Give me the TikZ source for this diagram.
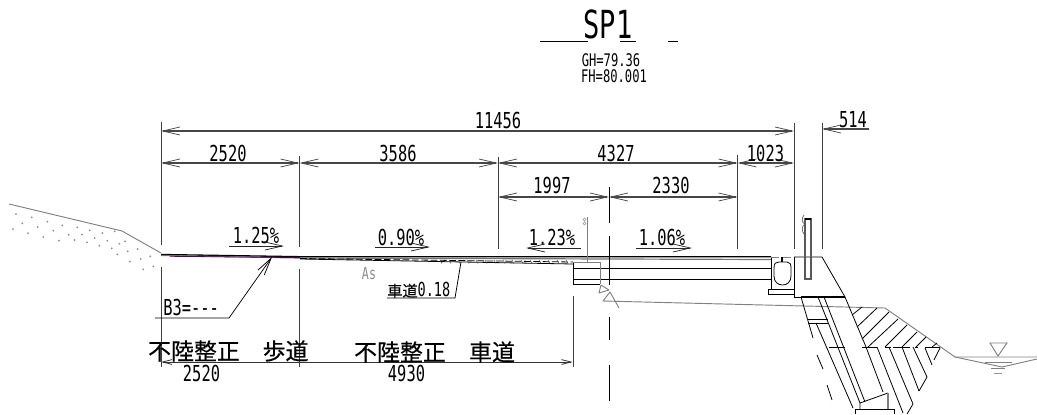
\documentclass[tikz,border=0pt]{standalone}
\usepackage{fontspec}
\usetikzlibrary{arrows.meta}
\newfontfamily\cad[FakeStretch=0.7]{DejaVu Sans Mono}
\newfontfamily\cjk[FakeBold=0.4]{Noto Sans CJK JP}
\newcommand{\fsz}[1]{\fontsize{#1}{#1}\selectfont}
\tikzset{
 longtip/.tip={Straight Barb[length=13pt,width=6pt,line width=.55pt]},
 shorttip/.tip={Straight Barb[length=7pt,width=3.6pt,line width=.6pt]},
 dim/.style={draw=black!72,line width=.8pt,longtip-longtip},
 slope/.style={draw=black!85,line width=.7pt,-longtip},
 ext/.style={draw=black!75,line width=.75pt},
 wall/.style={draw=black,line width=.6pt},
 soft/.style={draw=black!50,line width=.7pt},
 lab/.style={inner sep=0,text=black,font=\cad\fsz{16.5}},
 small/.style={inner sep=0,text=black,font=\cad\fsz{13}},
 big/.style={inner sep=0,text=black,font=\cad\fsz{29}},
 kanji/.style={inner sep=0,text=black,font=\cjk\fsz{17.2}}
}
\begin{document}
\begin{tikzpicture}[x=0.75pt,y=-0.75pt]
\useasboundingbox (0,0) rectangle (1037,414);
% title
\node[big] (title) at (608,24) {SP1};
\node[small] (gh) at (611,60) {GH=79.36};
\node[small] (fh) at (614,76) {FH=80.001};
\draw[wall] (540,41) -- (588,41) (620,41) -- (636,41) (668,41) -- (678,41);
% extension lines
\draw[ext] (161,122) -- (161,245) (161,267) -- (161,367);
\draw[ext] (299.5,156) -- (299.5,247) (299.5,269) -- (299.5,367);
\draw[ext] (498,157) -- (498,249);
\draw[ext] (737.5,155) -- (737.5,249);
\draw[ext] (794,123) -- (794,249);
\draw[ext] (822,123) -- (822,249);
% dimension lines
\draw[dim] (161,131) -- (794,131);
\draw[dim] (161,163) -- (299.5,163);
\draw[dim] (299.5,163) -- (498,163);
\draw[dim] (498,163) -- (737.5,163);
\draw[dim] (737.5,163) -- (794,163);
\draw[dim] (498,197) -- (609,197);
\draw[dim] (609,197) -- (737.5,197);
\draw[draw=black!72,line width=.8pt,longtip-] (822,129) -- (869,129);
% dimension texts
\node[lab] (t11456) at (498,120) {11456};
\node[lab] (t514) at (853,120) {514};
\node[lab] (t2520a) at (228,153) {2520};
\node[lab] (t3586) at (398,153) {3586};
\node[lab] (t4327) at (616,153) {4327};
\node[lab] (t1023) at (765.5,153) {1023};
\node[lab] (t1997) at (552,185) {1997};
\node[lab] (t2330) at (671,185) {2330};
% slopes
\node[lab] (s1) at (256,235) {1.25\%};
\node[lab] (s2) at (401,237) {0.90\%};
\node[lab] (s3) at (552,237) {1.23\%};
\node[lab] (s4) at (662,237) {1.06\%};
\draw[slope] (229,246) -- (284,246);
\draw[slope] (375,247) -- (430,247);
\draw[slope] (581,248) -- (526,248);
\draw[slope] (636,248) -- (692,248);
% ground left
\draw[soft] (9,204) -- (122,231) -- (161,253);
\foreach \x/\y in {48/72,95/82,67/100,142/95,187/106,113/111,39/117,160/122,232/112,269/121,84/129,130/141,206/134,246/134,307/129,344/124,177/152,224/150,284/144,322/152,375/154,358/161,261/157,298/167,335/175,413/177,383/184,352/193,451/199,422/207,390/215,460/229,430/238}
  \fill[black!45] (\x/3,190+\y/3) circle[radius=1];
% road surface
\draw[draw=black,line width=1pt] (161,254.5) -- (300,256.7) -- (771,256.7);
\draw[draw=black!55,line width=.9pt] (161,255.5) -- (300,258) -- (771,259.5);
\draw[draw=violet!70!black,line width=.6pt] (170,256.3) -- (300,257.6);
\draw[draw=black,line width=.6pt] (300,259) -- (573,264);
\draw[draw=black,line width=.6pt,dash pattern=on 5pt off 2pt] (300,258.5) -- (573,262);
\foreach \x in {440,449,...,570} \draw[draw=black!70,line width=.4pt] (\x,260) -- (\x+2,263.6);
% road structure
\draw[wall,line width=.75pt] (573,268) -- (771,268) (573,279) -- (771,279);
\draw[wall] (573,262) -- (573,284) -- (600,284);
\draw[soft] (573,262) -- (600,262) -- (600,284);
\draw[soft] (587,217) -- (587,262);
\draw[draw=black!40,line width=.4pt] (584.5,219.5) circle[radius=1.4] (584.5,223.5) circle[radius=1.4];
% centre line
\draw[wall,line width=.75pt] (609,187) -- (609,223) (609,236) -- (609,285) (609,317) -- (609,340) (609,365) -- (609,401);
% bearing marks
\draw[soft,line join=bevel] (599,293) -- (601,285) -- (609,290) -- cycle;
\draw[soft,line join=bevel] (619,308) -- (610,292) -- (603,301) -- (885,308);
% lower dimension
\draw[ext] (573,296) -- (573,367);
\draw[draw=black!80,line width=.7pt,shorttip-shorttip] (161,362) -- (572.5,362);
\node[kanji] (k1) at (194,351) {不陸整正};
\node[kanji] (k2) at (285.5,351) {歩道};
\node[kanji] (k3) at (400,352) {不陸整正};
\node[kanji] (k4) at (492,352) {車道};
\node[lab] (t2520b) at (201.5,373) {2520};
\node[lab] (t4930) at (406.5,373) {4930};
% B3 leader
\node[lab,anchor=west] (b3) at (163,307) {B3=---};
\coordinate (b3a) at (155,318); \coordinate (b3b) at (229,318); \coordinate (b3c) at (272,257);
\draw[draw=black,line width=.55pt,-longtip] (b3a) -- (b3b) -- (b3c);
% As and road thickness
\node[inner sep=0,text=black!45,font=\cad\fsz{12.5}] (as) at (369,274) {As};
\node[inner sep=0,text=black,anchor=west] (rd) at (387,290) {{\cjk\fsz{11.4}車道}{\cad\fsz{14.5}0.18}};
\coordinate (rda) at (387,298); \coordinate (rdb) at (455,298); \coordinate (rdc) at (461,262);
\draw[wall] (rda) -- (rdb) -- (rdc);
% abutment
\draw[wall] (771,257) -- (771,289) (794,257) -- (794,297);
\draw[soft,dash pattern=on 6pt off 3pt] (771,257) -- (794,257);
\draw[wall] (794,257) -- (822,257) -- (845,297);
\draw[wall] (768,289) rectangle (794,294);
\draw[wall] (774,268) .. controls (774,263) and (776,262) .. (779,262) -- (787,262) .. controls (790,262) and (791,264) .. (791,268) -- (791,276) .. controls (791,282) and (787,285) .. (782.5,285) .. controls (778,285) and (774,282) .. (774,276) -- cycle;
\draw[wall,line width=.9pt] (782,257) -- (782,262);
\draw[draw=black!65,line width=.8pt] (805,219) rectangle (811,279);
\draw[draw=black,line width=.9pt] (805,219) -- (811,219);
\draw[draw=black!65,line width=.5pt] (804,215) .. controls (801,219) and (802,223) .. (805,224) .. controls (801,226) and (802,232) .. (804,234);
% foundation walls
\draw[wall] (794,297) -- (845,297);
\draw[wall,line width=.9pt] (801,296.6) -- (845,296.6);
\draw[wall] (801,297) -- (813,338) (817,355) -- (823,369) (827,385) -- (832,400);
\draw[wall] (818,297) -- (860,403);
\draw[wall] (824,297) -- (865,402);
\draw[wall] (845,297) -- (866,347) -- (883,392);
\draw[wall] (808,319) -- (828,319) (808,323) -- (828,323);
\draw[wall] (816,323) -- (853,408);
\draw[wall] (860,403) -- (860,409) (860,403) -- (888,393);
\draw[soft,line width=.9pt] (888,393) -- (888,409);
\draw[wall,line width=.75pt] (855,414) -- (855,409) -- (894,409) -- (894,414);
% ground right and water
\draw[soft] (885,308) -- (955,357) -- (1037,357);
\draw[soft] (955,357) -- (1002,367) -- (1037,359);
\draw[soft] (990,343) -- (1007,343) -- (998,356) -- cycle;
\draw[soft] (985,362) -- (1012,362);
\draw[soft] (991,368) -- (1005,368);
\draw[draw=black!40,line width=.7pt] (994,373) -- (1002,373);
% hatch
\draw[wall] (852,315) -- (862,307) (857,327) -- (877,308) (862,339) -- (889,312) (868,347) -- (898,319) (885,347) -- (907,325) (902,347) -- (917,332) (916,347) -- (926,337) (932,347) -- (937,343);
\draw[wall] (829,347) -- (845,347) (862,347) -- (877,347) (885,347) -- (891,347) (893,347) -- (910,347) (915,347) -- (918,347) (925,347) -- (940,347);
\draw[wall] (877,347) -- (903,413);
\draw[wall] (889,347) -- (913,404) -- (907,414);
\draw[wall] (902,347) -- (919,391);
\draw[wall] (913,347) -- (927,377) -- (919,391);
\draw[wall] (925,348) -- (932,365);
\draw[wall] (940,348) -- (934,360);
\end{tikzpicture}
\end{document}
